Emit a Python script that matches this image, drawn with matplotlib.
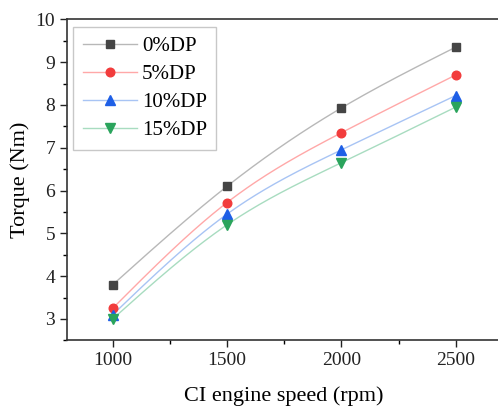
import numpy as np
import matplotlib
matplotlib.use("Agg")
import matplotlib.pyplot as plt
from matplotlib.ticker import MultipleLocator
from matplotlib.lines import Line2D

speed = [1000, 1500, 2000, 2500]
labels = ["0%DP", "5%DP", "10%DP", "15%DP"]
dp0 = [3.80, 6.10, 7.93, 9.35]
dp5 = [3.25, 5.72, 7.35, 8.70]
dp10 = [3.10, 5.45, 6.95, 8.22]
dp15 = [3.00, 5.20, 6.65, 7.95]

plt.rcParams['font.family'] = ['Liberation Serif', 'DejaVu Serif']


def natural_spline(x, y, n=200):
    x = np.asarray(x, float); y = np.asarray(y, float)
    k = len(x); h = np.diff(x)
    A = np.zeros((k, k)); b = np.zeros(k)
    A[0, 0] = A[-1, -1] = 1
    for i in range(1, k - 1):
        A[i, i - 1] = h[i - 1]; A[i, i] = 2 * (h[i - 1] + h[i]); A[i, i + 1] = h[i]
        b[i] = 3 * ((y[i + 1] - y[i]) / h[i] - (y[i] - y[i - 1]) / h[i - 1])
    c = np.linalg.solve(A, b)
    xs = np.linspace(x[0], x[-1], n); ys = np.empty_like(xs)
    for j, xv in enumerate(xs):
        i = min(np.searchsorted(x, xv, side='right') - 1, k - 2)
        dx = xv - x[i]
        bb = (y[i + 1] - y[i]) / h[i] - h[i] * (2 * c[i] + c[i + 1]) / 3
        d = (c[i + 1] - c[i]) / (3 * h[i])
        ys[j] = y[i] + bb * dx + c[i] * dx ** 2 + d * dx ** 3
    return xs, ys


fig = plt.figure(figsize=(4.98, 4.17), dpi=100)
ax = fig.add_axes([0.1345, 0.1837, 1.007 - 0.1345, 0.9537 - 0.1837])

series = [dp0, dp5, dp10, dp15]
line_colors = ["#b8b8b8", "#ffa8a8", "#a8c4f4", "#a8dcc0"]
marker_colors = ["#454545", "#f23c3c", "#1e5fe6", "#2aa45c"]
markers = ["s", "o", "^", "v"]
msizes = [5.5, 6.2, 6.5, 6.5]

handles = []
for s, lab, lc, mc, mk, ms in zip(series, labels, line_colors, marker_colors, markers, msizes):
    xs, ys = natural_spline(speed, s)
    ax.plot(xs, ys, color=lc, lw=1.0, zorder=2)
    ax.plot(speed, s, linestyle='none', marker=mk, color=mc, markersize=ms, zorder=3)
    handles.append(Line2D([], [], color=lc, lw=1.0, marker=mk, markerfacecolor=mc,
                          markeredgecolor=mc, markersize=ms, label=lab))

ax.set_xlim(800, 2700)
ax.set_ylim(2.5, 10)
ax.xaxis.set_major_locator(MultipleLocator(500))
ax.xaxis.set_minor_locator(MultipleLocator(250))
ax.yaxis.set_major_locator(MultipleLocator(1))
ax.yaxis.set_minor_locator(MultipleLocator(0.5))
ax.tick_params(which='major', direction='out', length=5, width=1, labelsize=14, colors='#222222')
ax.tick_params(which='minor', direction='out', length=3, width=1)
ax.set_yticks([3, 4, 5, 6, 7, 8, 9, 10])
for sp in ax.spines.values():
    sp.set_linewidth(1.2)
    sp.set_color('#333333')

ax.set_xlabel("CI engine speed (rpm)", fontsize=16, labelpad=12)
ax.set_ylabel("Torque (Nm)", fontsize=16, labelpad=4)

leg = ax.legend(handles=handles, loc='upper left', bbox_to_anchor=(0.0, 0.994),
                fontsize=15, frameon=True, fancybox=False, edgecolor='#bbbbbb',
                handlelength=2.6, labelspacing=0.4, borderpad=0.45, handletextpad=0.25,
                borderaxespad=0.3)
leg.get_frame().set_linewidth(1.0)

fig.savefig("out.png", dpi=100)
